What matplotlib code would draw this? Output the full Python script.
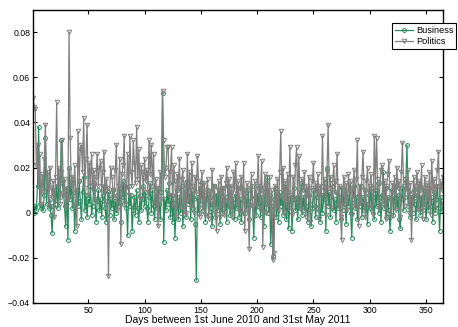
import numpy as np
import matplotlib
matplotlib.use("Agg")
import matplotlib.pyplot as plt
from matplotlib.ticker import FixedLocator, FixedFormatter

plt.rcParams['font.family'] = ['Liberation Sans', 'DejaVu Sans']

# Daily values, 1st June 2010 .. 31st May 2011
business = [
    0.002, 0.000, 0.003, 0.001, 0.012, 0.038, 0.004, 0.002, 0.003, 0.001,
    0.008, 0.033, 0.004, 0.018, 0.002, 0.006, -0.001, -0.009, 0.003, 0.010,
    0.004, 0.012, 0.002, 0.016, 0.007, 0.032, 0.013, 0.009, 0.003, -0.006,
    0.011, -0.012, 0.020, 0.006, 0.014, 0.002, 0.009, -0.008, 0.004, 0.010,
    0.003, 0.014, 0.005, -0.003, 0.009, 0.016, 0.001, 0.008, -0.002, 0.006,
    0.004, 0.012, -0.001, 0.003, 0.013, 0.006, -0.004, 0.005, 0.010, 0.001,
    0.006, -0.002, 0.008, 0.012, 0.002, -0.004, 0.005, 0.009, -0.001, 0.006,
    0.002, 0.010, -0.003, 0.005, 0.000, 0.008, 0.003, 0.011, -0.004, 0.007,
    0.014, 0.004, 0.012, 0.002, -0.010, 0.012, 0.003, 0.008, -0.008, 0.001,
    0.007, -0.001, 0.010, 0.002, -0.004, 0.008, 0.001, 0.006, 0.012, 0.003,
    0.009, 0.002, -0.004, 0.007, 0.013, 0.000, 0.010, 0.003, -0.003, 0.008,
    0.002, 0.011, 0.004, -0.003, 0.009, 0.053, -0.013, 0.006, 0.001, 0.010,
    0.004, 0.013, -0.002, 0.008, -0.004, 0.006, -0.011, 0.002, 0.010, -0.003,
    0.007, 0.000, 0.012, -0.006, 0.003, 0.009, -0.002, 0.014, 0.004, 0.008,
    -0.003, 0.010, 0.002, 0.006, -0.005, -0.030, 0.007, 0.000, 0.011, 0.004,
    0.013, 0.001, 0.008, -0.004, 0.006, 0.010, -0.001, 0.007, 0.002, -0.006,
    0.004, 0.012, -0.002, 0.008, 0.001, 0.009, -0.005, 0.006, 0.000, 0.011,
    0.002, 0.007, -0.004, 0.012, 0.003, -0.001, 0.009, 0.001, 0.006, -0.003,
    0.008, 0.002, 0.011, -0.002, 0.006, -0.004, 0.005, 0.010, 0.000, 0.007,
    0.002, 0.010, -0.003, 0.005, 0.012, 0.003, -0.011, 0.007, -0.001, 0.008,
    0.003, 0.011, -0.002, 0.007, 0.001, -0.006, 0.009, 0.004, 0.016, 0.000,
    0.008, -0.014, 0.003, -0.019, 0.006, 0.011, -0.002, 0.007, -0.004, 0.009,
    0.003, 0.008, -0.001, 0.012, 0.004, -0.003, 0.009, -0.007, 0.005, 0.007,
    -0.008, 0.006, 0.011, 0.001, 0.007, -0.003, 0.008, 0.002, 0.013, -0.001,
    0.007, 0.001, 0.010, 0.003, -0.004, 0.008, 0.004, -0.006, 0.002, 0.010,
    0.003, -0.002, 0.007, 0.011, 0.001, -0.004, 0.008, 0.000, 0.006, 0.013,
    -0.008, 0.020, 0.003, 0.009, -0.002, 0.007, 0.012, 0.001, 0.006, -0.004,
    0.009, 0.002, 0.007, -0.003, 0.011, 0.001, 0.008, 0.004, -0.005, 0.007,
    0.003, 0.010, 0.000, -0.011, 0.006, 0.012, 0.002, 0.007, -0.003, 0.008,
    0.003, 0.012, -0.002, 0.007, 0.001, 0.010, 0.004, -0.005, 0.008, 0.002,
    0.011, 0.001, 0.007, -0.003, 0.010, 0.003, 0.013, 0.000, 0.007, -0.004,
    0.008, 0.018, 0.002, 0.011, -0.002, 0.007, 0.001, -0.008, 0.006, 0.010,
    -0.001, 0.007, 0.012, 0.002, 0.008, -0.003, -0.007, 0.006, 0.011, 0.001,
    0.007, 0.014, 0.030, 0.003, 0.009, -0.002, 0.007, 0.000, 0.010, 0.004,
    -0.003, 0.008, 0.002, 0.012, -0.001, 0.007, 0.001, 0.010, 0.004, -0.003,
    0.008, 0.001, 0.011, 0.003, 0.007, -0.004, 0.009, 0.000, 0.006, 0.012,
    0.002, -0.008, 0.007, 0.003, 0.001,
]

politics = [
    0.051, 0.047, 0.046, 0.021, 0.030, 0.012, 0.026, 0.004, 0.017, 0.009,
    0.024, 0.039, 0.010, 0.018, 0.003, 0.020, 0.011, 0.007, 0.014, -0.002,
    0.016, 0.049, 0.012, 0.020, 0.004, 0.018, 0.032, 0.008, 0.015, 0.002,
    0.010, 0.006, 0.080, 0.033, 0.012, 0.016, 0.003, 0.021, 0.009, -0.006,
    0.036, 0.014, 0.028, 0.030, 0.018, 0.042, 0.011, 0.024, 0.039, 0.008,
    0.022, 0.013, 0.026, 0.010, 0.019, 0.005, 0.016, 0.026, 0.012, 0.020,
    0.023, 0.009, 0.018, 0.027, 0.004, 0.015, 0.011, -0.028, 0.008, 0.020,
    0.016, 0.010, 0.006, 0.019, 0.030, 0.001, 0.012, 0.024, -0.014, 0.017,
    0.021, 0.034, 0.004, 0.011, 0.026, 0.008, 0.034, 0.018, 0.012, 0.032,
    0.022, 0.013, 0.038, 0.015, 0.028, 0.006, 0.021, 0.018, 0.010, 0.024,
    0.014, 0.019, 0.009, 0.032, 0.017, 0.030, 0.012, 0.026, 0.004, 0.015,
    0.008, -0.006, 0.011, 0.018, 0.006, 0.054, 0.032, 0.016, 0.020, 0.029,
    0.029, 0.008, 0.018, 0.029, 0.003, 0.021, 0.014, -0.002, 0.017, 0.011,
    0.024, 0.002, 0.015, 0.019, -0.001, 0.013, 0.000, 0.026, 0.006, 0.018,
    0.003, 0.022, 0.012, 0.000, 0.016, 0.009, 0.025, 0.014, -0.002, 0.011,
    0.018, 0.002, 0.013, -0.001, 0.010, 0.015, -0.003, 0.009, 0.005, 0.019,
    0.004, 0.012, 0.000, -0.008, 0.010, 0.014, -0.002, 0.016, 0.003, 0.011,
    -0.001, 0.013, 0.020, 0.005, 0.015, 0.002, 0.012, -0.002, 0.018, 0.010,
    0.022, 0.004, 0.014, 0.001, 0.011, 0.016, 0.000, 0.022, -0.008, 0.009,
    0.013, 0.001, -0.016, 0.011, 0.017, 0.003, -0.002, 0.014, 0.004, 0.012,
    0.025, 0.002, 0.010, 0.023, -0.015, 0.011, 0.017, 0.000, 0.013, 0.004,
    0.016, -0.002, 0.010, -0.021, -0.018, 0.012, 0.003, 0.015, 0.001, 0.018,
    0.036, 0.007, 0.020, 0.000, 0.014, 0.005, 0.017, 0.002, 0.029, 0.008,
    -0.001, 0.016, 0.006, 0.021, 0.029, 0.004, 0.025, 0.009, 0.001, 0.015,
    0.010, 0.018, -0.002, 0.012, 0.007, 0.016, -0.004, 0.011, 0.014, 0.022,
    0.002, 0.013, 0.009, 0.017, -0.003, 0.012, 0.008, 0.034, 0.010, 0.015,
    -0.001, 0.018, 0.039, 0.011, 0.016, 0.002, 0.013, 0.021, 0.009, 0.014,
    0.026, 0.003, 0.012, -0.002, -0.012, 0.010, 0.016, 0.004, 0.013, 0.001,
    0.017, 0.009, 0.014, -0.001, 0.011, 0.019, 0.003, 0.015, 0.032, -0.006,
    0.012, 0.004, 0.016, 0.027, 0.010, -0.002, 0.014, 0.020, 0.003, 0.012,
    0.017, 0.009, -0.001, 0.034, 0.011, 0.033, 0.015, 0.002, 0.013, 0.019,
    0.021, 0.004, 0.014, -0.003, 0.012, 0.017, 0.023, 0.006, -0.002, 0.013,
    0.009, 0.016, 0.001, 0.020, 0.011, 0.014, -0.002, 0.018, 0.031, 0.012,
    0.003, 0.015, 0.010, 0.019, 0.000, 0.013, -0.012, 0.005, 0.016, 0.008,
    0.012, 0.018, 0.001, 0.014, 0.010, 0.021, -0.003, 0.011, 0.016, 0.003,
    0.013, 0.006, 0.018, -0.001, 0.023, 0.010, 0.015, 0.002, 0.012, 0.019,
    0.027, 0.004, 0.014, 0.010, 0.016,
]

days = np.arange(1, len(business) + 1)

x_ticks = [50, 100, 150, 200, 250, 300, 350]
y_ticks = [-0.04, -0.02, 0, 0.02, 0.04, 0.06, 0.08]
y_labels = ["\u22120.04", "\u22120.02", "0", "0.02", "0.04", "0.06", "0.08"]

fig = plt.figure(figsize=(4.58, 3.27), dpi=100)
ax = fig.add_axes([33 / 458, 24 / 327, 410 / 458, 293.5 / 327])

ax.plot(days, business, "-o", color="#2b8a5c", lw=0.9, ms=2.8,
        mfc="none", mew=0.7, label="Business")
ax.plot(days, politics, "-v", color="#808080", lw=0.9, ms=3.2,
        mfc="none", mew=0.7, label="Politics")

ax.set_xlim(1, 365)
ax.set_ylim(-0.04, 0.09)
ax.xaxis.set_major_locator(FixedLocator(x_ticks))
ax.yaxis.set_major_locator(FixedLocator(y_ticks))
ax.yaxis.set_major_formatter(FixedFormatter(y_labels))
ax.tick_params(direction="in", top=True, right=True, labelsize=6.3,
               length=3, width=0.8, pad=2)
for s in ax.spines.values():
    s.set_linewidth(1.0)
ax.set_xlabel("Days between 1st June 2010 and 31st May 2011", fontsize=7.5,
              labelpad=0)

leg = ax.legend(loc="upper left", bbox_to_anchor=(392 / 458, 1 - 23 / 327),
                bbox_transform=fig.transFigure, fontsize=6.6, fancybox=False,
                framealpha=1, edgecolor="black", handlelength=2.0,
                borderpad=0.3, labelspacing=0.25, handletextpad=0.3,
                borderaxespad=0)
leg.get_frame().set_linewidth(0.8)

fig.savefig("out.png", dpi=100)
